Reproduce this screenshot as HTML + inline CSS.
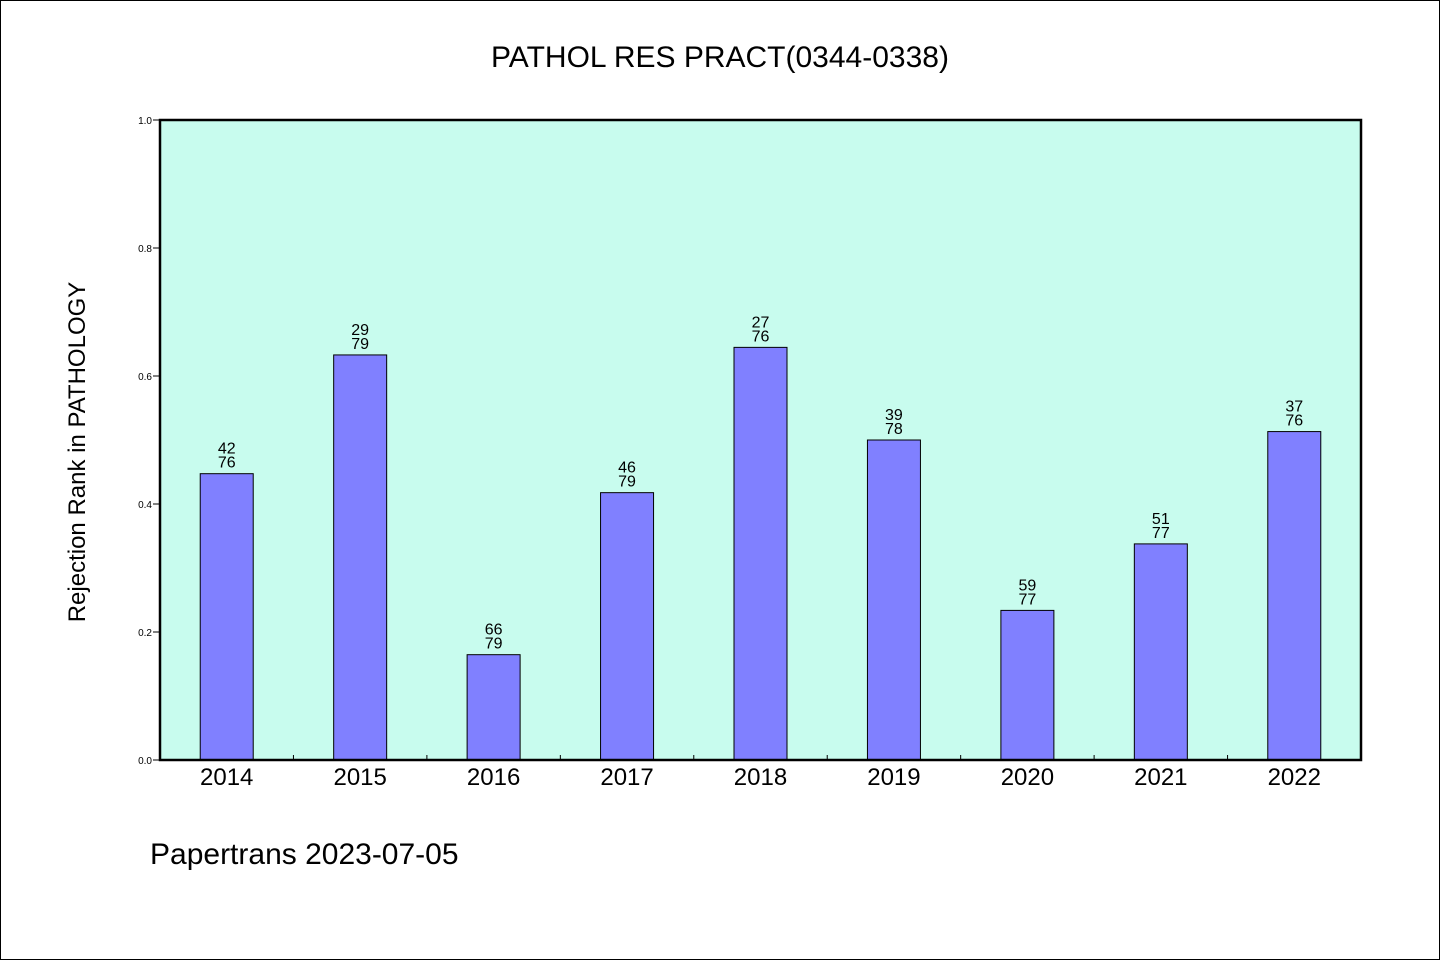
<!DOCTYPE html>
<html><head><meta charset="utf-8">
<style>
html,body{margin:0;padding:0;background:#fff}
svg{display:block}
text{font-family:"WenQuanYi Zen Hei","Liberation Sans",sans-serif;fill:#000}
</style></head>
<body>
<svg id="chart" width="1440" height="960" viewBox="0 0 1440 960">
<rect x="0.5" y="0.5" width="1439" height="959" fill="#fff" stroke="#000"/>
<text x="720" y="67" font-size="30" text-anchor="middle">PATHOL RES PRACT(0344-0338)</text>
<rect x="160" y="120" width="1201" height="640" fill="#c8fcee"/>
<g id="yaxis"></g>
<g id="xaxis"></g>
<g id="bars"></g>
<rect x="160" y="120" width="1201" height="640" fill="none" stroke="#000" stroke-width="2.5"/>
<text transform="translate(85,452) rotate(-90)" font-size="24" text-anchor="middle">Rejection Rank in PATHOLOGY</text>
<text x="150" y="864" font-size="30">Papertrans 2023-07-05</text>
</svg>
<script>
const categories=["2014","2015","2016","2017","2018","2019","2020","2021","2022"];
const ranks=[42,29,66,46,27,39,59,51,37];
const totals=[76,79,79,79,76,78,77,77,76];
const yTicks=["0.0","0.2","0.4","0.6","0.8","1.0"];
const NS="http://www.w3.org/2000/svg";
const L=160,R=1361,T=120,B=760;
const y=v=>B-(v)*(B-T);
const step=(R-L)/categories.length;
const xc=i=>L+step*(i+0.5);
function mk(tag,attrs,parent,txt){const e=document.createElementNS(NS,tag);for(const k in attrs)e.setAttribute(k,attrs[k]);if(txt!==undefined)e.textContent=txt;parent.appendChild(e);return e;}
const ya=document.getElementById('yaxis'),xa=document.getElementById('xaxis'),bg=document.getElementById('bars');
yTicks.forEach(t=>{const v=parseFloat(t);
 const l=mk('line',{x1:L-7,x2:L,y1:y(v),y2:y(v),stroke:'#000','stroke-width':1},ya);
 
 
 const tx=mk('text',{x:L-8,y:y(v)+4,'font-size':10,'text-anchor':'end'},ya,t);
 
 
});
categories.forEach((c,i)=>{
 if(i>0){const l=mk('line',{x1:L+step*i,x2:L+step*i,y1:B-5,y2:B,stroke:'#000','stroke-width':1},xa);
 
 }
 const tx=mk('text',{x:xc(i),y:B+25,'font-size':24,'text-anchor':'middle'},xa,c);
 
 
 const v=1-ranks[i]/totals[i];
 const r=mk('rect',{x:xc(i)-26.5,y:y(v),width:53,height:B-y(v),fill:'#8080ff',stroke:'#000','stroke-width':1},bg);
 
 
 const t1=mk('text',{x:xc(i),y:y(v)-20,'font-size':16,'text-anchor':'middle'},bg,String(ranks[i]));
 
 
 const t2=mk('text',{x:xc(i),y:y(v)-6,'font-size':16,'text-anchor':'middle'},bg,String(totals[i]));
 
 
});
</script>
</body></html>
